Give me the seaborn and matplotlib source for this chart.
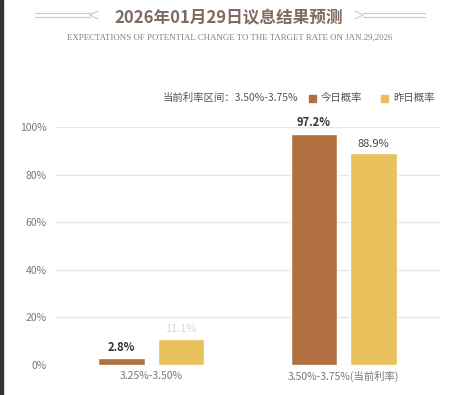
import pandas as pd
import numpy as np
import matplotlib.pyplot as plt
import seaborn as sns
from matplotlib.lines import Line2D
from matplotlib.patches import Rectangle

# data
categories = ['3.25%-3.50%', '3.50%-3.75%(当前利率)']
today = [2.8, 97.2]
yesterday = [11.1, 88.9]
series = ['今日概率', '昨日概率']
yticks = [0, 20, 40, 60, 80, 100]

colors = ['#b0703f', '#e8c05c']

sns.set_style('white')
plt.rcParams['font.family'] = ['Noto Sans CJK SC', 'DejaVu Sans']

df = pd.DataFrame({
    'cat': categories * 2,
    'val': today + yesterday,
    'series': [series[0]] * 2 + [series[1]] * 2,
})

fig = plt.figure(figsize=(4.58, 3.95), dpi=100, facecolor='white')
ax = fig.add_axes([55 / 458, 1 - 365 / 395, 385 / 458, 238 / 395])

sns.barplot(data=df, x='cat', y='val', hue='series', palette=colors,
            width=0.62, gap=0.22, legend=False, ax=ax, saturation=1)

ax.set_xlim(-0.5, 1.5)
ax.set_ylim(0, 100)
ax.set_yticks(yticks)
ax.set_yticklabels([f'{t}%' for t in yticks], color='#777777', fontsize=7.5)
ax.set_xticks(range(len(categories)))
ax.set_xticklabels(categories, color='#777777', fontsize=7.5)
ax.tick_params(axis='both', length=0, pad=6)
ax.tick_params(axis='x', pad=4)
ax.grid(axis='y', color='#e6e6e6', linewidth=0.9)
ax.set_axisbelow(True)
for s in ax.spines.values():
    s.set_visible(False)
ax.set_xlabel('')
ax.set_ylabel('')

# value labels
for i, c in enumerate(ax.containers):
    for j, bar in enumerate(c):
        v = bar.get_height()
        if i == 0:
            kw = dict(color='#333333', fontweight='bold')
        elif j == 0:
            kw = dict(color='#c4c4c4', alpha=0.7)
        else:
            kw = dict(color='#444444')
        ax.text(bar.get_x() + bar.get_width() / 2, v + 2, f'{v:.1f}%',
                ha='center', va='bottom', fontsize=8, clip_on=False, **kw)

# title
fig.text(229 / 458, 1 - 18 / 395, '2026年01月29日议息结果预测', ha='center', va='center',
         fontsize=12, fontweight='bold', color='#7d6c62')
fig.text(230 / 458, 1 - 38 / 395, 'EXPECTATIONS OF POTENTIAL CHANGE TO THE TARGET RATE ON JAN.29,2026',
         ha='center', va='center', fontsize=6.4, color='#8a7d74', family='Liberation Serif')

# decorative lines next to title
lc = '#cfc6bf'
for y0 in (13, 17):
    fig.add_artist(Line2D([35 / 458, 90 / 458], [1 - y0 / 395, 1 - y0 / 395], color=lc, lw=0.8))
    fig.add_artist(Line2D([363 / 458, 425 / 458], [1 - y0 / 395, 1 - y0 / 395], color=lc, lw=0.8))
fig.add_artist(Line2D([98 / 458, 90 / 458, 98 / 458], [1 - 11 / 395, 1 - 15 / 395, 1 - 19 / 395], color=lc, lw=0.8))
fig.add_artist(Line2D([355 / 458, 363 / 458, 355 / 458], [1 - 11 / 395, 1 - 15 / 395, 1 - 19 / 395], color=lc, lw=0.8))

# legend line
ly = 1 - 98 / 395
fig.text(163 / 458, ly, '当前利率区间：3.50%-3.75%', ha='left', va='center', fontsize=7.5, color='#555555')
for x0, col, lab in [(309, colors[0], series[0]), (381, colors[1], series[1])]:
    fig.add_artist(Rectangle((x0 / 458, ly - 3.5 / 395), 7 / 458, 7 / 395, color=col, transform=fig.transFigure))
    fig.text((x0 + 12) / 458, ly, lab, ha='left', va='center', fontsize=7.5, color='#555555')

# dark left border
fig.add_artist(Rectangle((0, 0), 2.5 / 458, 1, color='#333333', transform=fig.transFigure))

fig.savefig('out.png', dpi=100, facecolor='white')
